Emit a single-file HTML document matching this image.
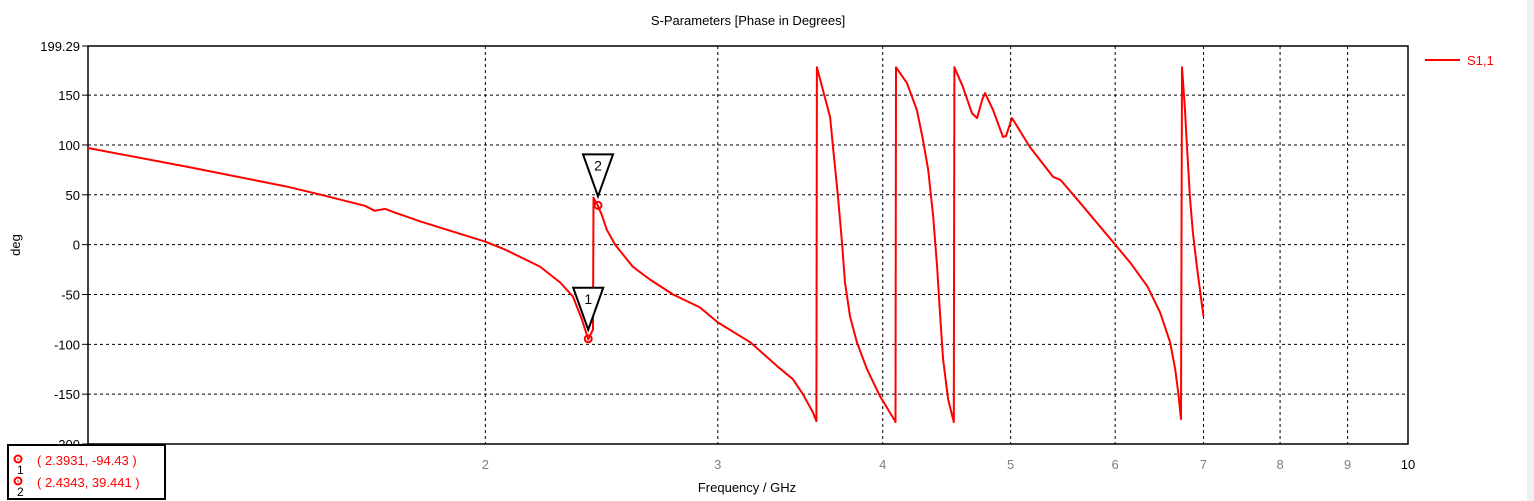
<!DOCTYPE html>
<html><head><meta charset="utf-8">
<style>
html,body{margin:0;padding:0;background:#fff;}
svg{display:block;font-family:"Liberation Sans",sans-serif;}
</style></head>
<body>
<svg id="chart" width="1534" height="501" viewBox="0 0 1534 501" xmlns="http://www.w3.org/2000/svg">
<rect x="1527" y="0" width="7" height="501" fill="#f0f0f0"/>
<text x="748" y="25" text-anchor="middle" font-size="13" fill="#000">S-Parameters [Phase in Degrees]</text>
<text x="20" y="245" text-anchor="middle" font-size="13" fill="#000" transform="rotate(-90 20 245)">deg</text>
<text x="747" y="492" text-anchor="middle" font-size="13" fill="#000">Frequency / GHz</text>
<g id="grid"></g>
<g id="ticks"></g>
<rect x="88" y="46" width="1320" height="398" fill="none" stroke="#000" stroke-width="1.5"/>
<polyline id="series" fill="none" stroke="#ff0000" stroke-width="2" stroke-linejoin="round"/>
<g id="markers"></g>
<line x1="1425" y1="60" x2="1460" y2="60" stroke="#ff0000" stroke-width="2"/>
<text x="1467" y="65" font-size="13" fill="#ff0000">S1,1</text>
<g>
<rect x="8" y="445" width="157" height="54" fill="#fff" stroke="#000" stroke-width="2"/>
<circle cx="18" cy="459" r="3.5" fill="none" stroke="#f00" stroke-width="2"/><circle cx="18" cy="459" r="0.8" fill="#f00"/>
<text x="17" y="474" font-size="12" fill="#000">1</text>
<text x="37" y="465" font-size="13" fill="#ff0000">( 2.3931, -94.43 )</text>
<circle cx="18" cy="481" r="3.5" fill="none" stroke="#f00" stroke-width="2"/><circle cx="18" cy="481" r="0.8" fill="#f00"/>
<text x="17" y="496" font-size="12" fill="#000">2</text>
<text x="37" y="487" font-size="13" fill="#ff0000">( 2.4343, 39.441 )</text>
</g>
</svg>
<script>
const freqs = [1,1.19,1.417,1.502,1.621,1.649,1.679,1.709,1.788,2.0,2.07,2.2,2.279,2.33,2.367,2.393,2.413,2.415,2.434,2.45,2.472,2.508,2.586,2.665,2.775,2.908,3.0,3.175,3.328,3.42,3.48,3.541,3.563,3.566,3.649,3.668,3.7,3.726,3.745,3.778,3.824,3.892,3.981,4.087,4.090,4.094,4.173,4.246,4.291,4.33,4.368,4.398,4.422,4.444,4.483,4.528,4.533,4.601,4.673,4.715,4.757,4.781,4.849,4.934,4.96,5.012,5.171,5.384,5.454,5.644,6.0,6.159,6.348,6.489,6.604,6.663,6.697,6.73,6.742,6.777,6.801,6.836,6.872,6.92,6.956,7.0];
const phases = [97,78,58,50,39,34,36,32,23,3,-5,-22,-38,-52,-75,-95,-85,47,39,30,15,0,-22,-35,-50,-63,-78,-98,-122,-135,-150,-168,-177,178,128,98,48,2,-38,-72,-98,-125,-152,-177,-178,178,162,135,105,75,28,-22,-72,-115,-155,-178,178,158,132,127,145,152,135,108,109,127,98,68,65,42,0,-18,-42,-68,-98,-125,-148,-175,178,135,98,48,12,-22,-45,-72];
const xTickVals = [2,3,4,5,6,7,8,9,10];
const yTickVals = [150,100,50,0,-50,-100,-150,-200];
const yTopLabel = "199.29";
const markerFreqs = [2.3931,2.4343];
const markerPhases = [-94.43,39.441];
const markerLabels = ["1","2"];

const L=88,R=1408,yMax=199.29,yMin=-200;
const X=f=>L+(R-L)*Math.log10(f);
const Y=v=>46+(yMax-v)/(yMax-yMin)*398;
const NS="http://www.w3.org/2000/svg";
function mk(tag,attrs,parent){const e=document.createElementNS(NS,tag);for(const k in attrs)e.setAttribute(k,attrs[k]);parent.appendChild(e);return e;}
const grid=document.getElementById('grid'),ticks=document.getElementById('ticks');
xTickVals.forEach(v=>{
  const x=X(v);
  if(v<10){const l=mk('line',{x1:x,x2:x,y1:46,y2:444,stroke:'#000','stroke-dasharray':'3,3','stroke-width':1},grid);
  
  }
  const t=mk('text',{x:x,y:469,'text-anchor':'middle','font-size':13,fill:v==10?'#000':'#808080'},ticks);
  t.textContent=v;
  
  
});
yTickVals.forEach(v=>{
  const y=Y(v);
  if(v>-200){const l=mk('line',{x1:L,x2:R,y1:y,y2:y,stroke:'#000','stroke-dasharray':'3,3','stroke-width':1},grid);
  
  }
  mk('line',{x1:L-6,x2:L,y1:y,y2:y,stroke:'#000'},grid);
  const t=mk('text',{x:80,y:y+5,'text-anchor':'end','font-size':13,fill:'#000'},ticks);
  t.textContent=v;
  
  
});
const tt=mk('text',{x:80,y:Y(yMax)+5,'text-anchor':'end','font-size':13,fill:'#000'},ticks);
tt.textContent=yTopLabel;


mk('line',{x1:L-6,x2:L,y1:46,y2:46,stroke:'#000'},grid);
document.getElementById('series').setAttribute('points',freqs.map((f,i)=>X(f).toFixed(1)+','+Y(phases[i]).toFixed(1)).join(' '));
const mg=document.getElementById('markers');
markerFreqs.forEach((f,i)=>{
  const x=X(f),y=Y(markerPhases[i]);
  const c=mk('circle',{cx:x,cy:y,r:3.5,fill:'none',stroke:'#f00','stroke-width':2},mg);
  
  
  const ay=y-9;
  const p=mk('polygon',{points:`${x-15},${ay-42} ${x+15},${ay-42} ${x},${ay}`,fill:'#fff',stroke:'#000','stroke-width':2},mg);
  
  
  const t=mk('text',{x:x,y:ay-26,'text-anchor':'middle','font-size':14,fill:'#000'},mg);
  t.textContent=markerLabels[i];
  
  
});
</script>
</body></html>
